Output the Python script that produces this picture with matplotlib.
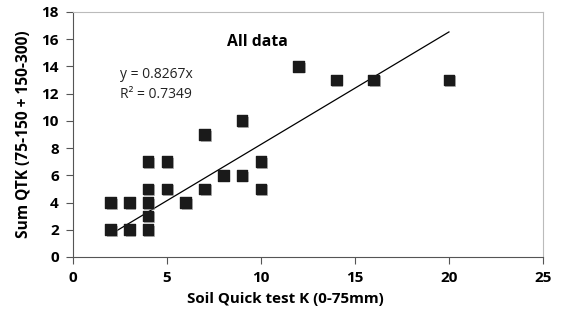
import matplotlib
matplotlib.use("Agg")
import matplotlib.pyplot as plt
import matplotlib.patheffects as pe
import numpy as np

plt.rcParams['font.family'] = ['Open Sans', 'DejaVu Sans']

soil_k = [2, 2, 3, 3, 4, 4, 4, 4, 4, 5, 5, 6, 7, 7, 8, 9, 9, 10, 10, 12, 14, 16, 20]
sum_qtk = [2, 4, 2, 4, 2, 3, 4, 5, 7, 5, 7, 4, 5, 9, 6, 6, 10, 5, 7, 14, 13, 13, 13]
slope = 0.8267
r2 = 0.7349
x_ticks = [0, 5, 10, 15, 20, 25]
y_ticks = [0, 2, 4, 6, 8, 10, 12, 14, 16, 18]

fig = plt.figure(figsize=(5.65, 3.24), dpi=100)
ax = fig.add_axes([0.129, 0.207, 0.832, 0.756])

ax.scatter(soil_k, sum_qtk, marker='s', s=60, color='#1a1a1a', zorder=3,
           path_effects=[pe.SimplePatchShadow(offset=(1.2, -1.2), shadow_rgbFace='#888888', alpha=0.6), pe.Normal()])

xl = np.array([min(soil_k), max(soil_k)])
ax.plot(xl, slope * xl, color='black', lw=0.9, zorder=2)

ax.set_xlim(0, 25)
ax.set_ylim(0, 18)
ax.set_xticks(x_ticks)
ax.set_yticks(y_ticks)
ax.tick_params(direction='out', length=5, width=0.8, labelsize=11, pad=5)
for lab in ax.get_xticklabels() + ax.get_yticklabels():
    lab.set_fontweight('bold')

for s in ['left', 'bottom']:
    ax.spines[s].set_color('#555555')
for s in ['top', 'right']:
    ax.spines[s].set_color('#bbbbbb')
ax.tick_params(colors='#555555', labelcolor='black')

ax.set_xlabel('Soil Quick test K (0-75mm)', fontweight='bold', fontsize=10.9)
ax.xaxis.set_label_coords(0.453, -0.145)
ax.set_ylabel('Sum QTK (75-150 + 150-300)', fontweight='bold', fontsize=11.2, labelpad=7)

ax.text(9.8, 15.8, 'All data', fontweight='bold', fontsize=11.3, ha='center', va='center')
ax.text(2.5, 13.4, f'y = {slope}x', fontsize=10, ha='left', va='center', color='#222222')
ax.text(2.5, 11.9, f'R² = {r2}', fontsize=10, ha='left', va='center', color='#222222')

fig.savefig('out.png', dpi=100)
